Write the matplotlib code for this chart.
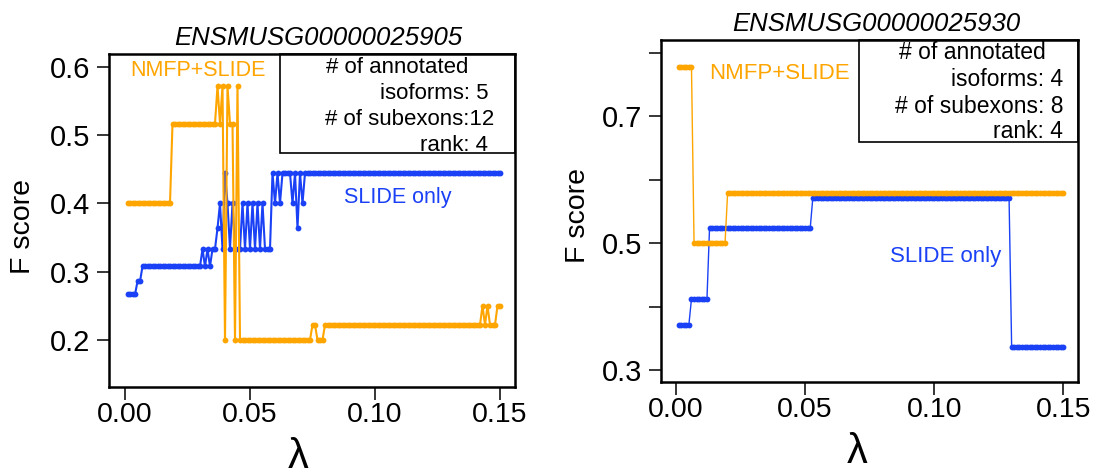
#!/usr/bin/env python3
"""F score vs lambda for two genes, NMFP+SLIDE against SLIDE only."""

import numpy as np
import matplotlib

matplotlib.use("Agg")
import matplotlib.pyplot as plt
from matplotlib.patches import Rectangle

W_PX, H_PX = 1107, 475

ORANGE = "#FFA500"
BLUE = "#1a41f5"

# lambda grid (one point every 0.001)
LAMBDA = np.round(np.arange(1, 151) * 0.001, 3)

# ENSMUSG00000025905, stored as (value, how many consecutive lambdas)
LEFT_SLIDE_VALUES = [0.2667, 0.2857, 0.3077, 0.3333, 0.3077, 0.3333, 0.3077, 0.3333,
                     0.3636, 0.4, 0.3333, 0.4444, 0.4, 0.3333, 0.4, 0.3333, 0.4,
                     0.3333, 0.4, 0.3333, 0.4, 0.3333, 0.4, 0.3333, 0.4, 0.3333,
                     0.4444, 0.4, 0.4444, 0.4, 0.4444, 0.4, 0.4444, 0.3636, 0.4444,
                     0.4, 0.4444]
LEFT_SLIDE_COUNTS = [4, 2, 24, 1, 1, 1, 1, 2,
                     1, 1, 1, 1, 1, 1, 1, 3, 1,
                     1, 1, 1, 1, 1, 1, 1, 1, 3,
                     1, 1, 1, 1, 4, 1, 1, 1, 1,
                     1, 79]
LEFT_NMFP_VALUES = [0.4, 0.5167, 0.5714, 0.5167, 0.5714, 0.2, 0.5714, 0.5167, 0.2,
                    0.5714, 0.2, 0.2222, 0.2, 0.2222, 0.25, 0.2222, 0.25, 0.2222, 0.25]
LEFT_NMFP_COUNTS = [18, 18, 1, 1, 1, 1, 1, 2, 1,
                    1, 29, 2, 3, 63, 1, 1, 1, 3, 2]

# ENSMUSG00000025930
RIGHT_SLIDE_VALUES = [0.3714, 0.4118, 0.5238, 0.5714, 0.3368]
RIGHT_SLIDE_COUNTS = [5, 7, 40, 77, 21]
RIGHT_NMFP_VALUES = [0.7778, 0.5, 0.5789]
RIGHT_NMFP_COUNTS = [6, 13, 131]

LEFT_INFO = ["# of annotated", "isoforms: 5", "# of subexons:12", "rank: 4"]
RIGHT_INFO = ["# of annotated", "isoforms: 4", "# of subexons: 8", "rank: 4"]

X_TICKS = [0.0, 0.05, 0.10, 0.15]
X_TICK_LABELS = ["0.00", "0.05", "0.10", "0.15"]
LEFT_Y_TICKS = [0.2, 0.3, 0.4, 0.5, 0.6]
LEFT_Y_TICK_LABELS = ["0.2", "0.3", "0.4", "0.5", "0.6"]
RIGHT_Y_TICKS = [0.3, 0.4, 0.5, 0.6, 0.7, 0.8]
RIGHT_Y_TICK_LABELS = ["0.3", "", "0.5", "", "0.7", ""]


def fx(px):
    return px / W_PX


def fy(py):
    return 1 - py / H_PX


def expand(values, counts):
    return np.repeat(values, counts)


def style_axes(ax, yticks, ylabels):
    for sp in ax.spines.values():
        sp.set_linewidth(1.8)
    ax.set_xticks(X_TICKS)
    ax.set_xticklabels(X_TICK_LABELS)
    ax.set_yticks(yticks)
    ax.set_yticklabels(ylabels)
    ax.tick_params(axis="both", direction="out", length=9, width=1.1)
    ax.tick_params(axis="x", labelsize=20.5, pad=1.5)
    ax.tick_params(axis="y", labelsize=21, pad=4.5)


def draw_lines(ax, slide, nmfp, lw):
    ax.plot(LAMBDA, slide, color=BLUE, lw=lw, marker="o", ms=4.2, mew=0)
    ax.plot(LAMBDA, nmfp, color=ORANGE, lw=lw, marker="o", ms=4.2, mew=0)


def info_box(fig, x0, y0, x1, y1, lines, rows, size):
    fig.patches.append(Rectangle((fx(x0), fy(y1)), fx(x1) - fx(x0), fy(y0) - fy(y1),
                                 transform=fig.transFigure, fill=False,
                                 edgecolor="black", linewidth=1.2, zorder=5))
    for text, (px, py) in zip(lines, rows):
        fig.text(fx(px), fy(py), text, ha="right", va="baseline", fontsize=size)


plt.rcParams["font.family"] = ["Liberation Sans", "DejaVu Sans"]

fig = plt.figure(figsize=(W_PX / 100, H_PX / 100), dpi=100)

# left panel
ax1 = fig.add_axes([fx(109), fy(387), fx(515) - fx(109), fy(54) - fy(387)])
draw_lines(ax1, expand(LEFT_SLIDE_VALUES, LEFT_SLIDE_COUNTS),
           expand(LEFT_NMFP_VALUES, LEFT_NMFP_COUNTS), 1.5)
ax1.set_xlim(-0.0064, 0.156)
ax1.set_ylim(0.1312, 0.6186)
style_axes(ax1, LEFT_Y_TICKS, LEFT_Y_TICK_LABELS)

fig.text(fx(318.8), fy(45), "ENSMUSG00000025905", ha="center", va="baseline",
         fontsize=18.5, style="italic")
fig.text(fx(198), fy(76), "NMFP+SLIDE", ha="center", va="baseline",
         fontsize=15.5, color=ORANGE)
fig.text(fx(398), fy(202.7), "SLIDE only", ha="center", va="baseline",
         fontsize=15.5, color=BLUE)
info_box(fig, 280, 54, 515, 153, LEFT_INFO,
         [(468.3, 73.3), (488.3, 99.3), (494.3, 125), (488.3, 150.7)], 16)
fig.text(fx(298), fy(468), "λ", ha="center", va="baseline", fontsize=30)
fig.text(fx(23), fy(227), "F score", ha="center", va="center", rotation=90,
         fontsize=20.5)

# right panel
ax2 = fig.add_axes([fx(661), fy(382), fx(1078) - fx(661), fy(40) - fy(382)])
draw_lines(ax2, expand(RIGHT_SLIDE_VALUES, RIGHT_SLIDE_COUNTS),
           expand(RIGHT_NMFP_VALUES, RIGHT_NMFP_COUNTS), 1.0)
ax2.set_xlim(-0.0058, 0.1557)
ax2.set_ylim(0.2811, 0.8197)
style_axes(ax2, RIGHT_Y_TICKS, RIGHT_Y_TICK_LABELS)

fig.text(fx(876), fy(30.7), "ENSMUSG00000025930", ha="center", va="baseline",
         fontsize=18.5, style="italic")
fig.text(fx(779), fy(79.3), "NMFP+SLIDE", ha="center", va="baseline",
         fontsize=16, color=ORANGE)
fig.text(fx(946), fy(261.7), "SLIDE only", ha="center", va="baseline",
         fontsize=16, color=BLUE)
info_box(fig, 859, 40, 1078, 142, RIGHT_INFO,
         [(1046, 59.3), (1063.3, 86), (1063.3, 112.7), (1063.3, 138.3)], 16.5)
fig.text(fx(857), fy(463), "λ", ha="center", va="baseline", fontsize=30)
fig.text(fx(578), fy(215.5), "F score", ha="center", va="center", rotation=90,
         fontsize=20.5)

fig.savefig("out.png", dpi=100)
plt.close(fig)
